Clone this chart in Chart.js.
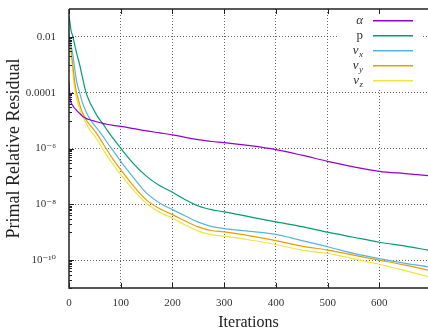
<!DOCTYPE html>
<html>
<head>
<meta charset="utf-8">
<script src="https://cdn.jsdelivr.net/npm/chart.js@4.4.0/dist/chart.umd.min.js"></script>
<style>
  html, body { margin: 0; padding: 0; background: #fff; }
  #wrap { width: 428px; height: 332px; }
</style>
</head>
<body>
<div id="wrap"><canvas id="grafico" width="428" height="332"></canvas></div>
<script>
// iteraciones muestreadas (eje x)
const iteraciones = [0, 2, 4, 7, 10, 13, 16, 20, 26, 33, 40, 46, 55, 65, 75, 85, 100, 125, 150, 175, 200, 225, 250, 275, 300, 350, 400, 450, 500, 550, 600, 650, 694];

// residuos, como exponente base 10
const alphaExp = [-3.6, -4.2, -4.36, -4.45, -4.54, -4.6, -4.66, -4.73, -4.84, -4.92, -4.97, -5.0, -5.05, -5.1, -5.14, -5.17, -5.21, -5.29, -5.37, -5.44, -5.51, -5.6, -5.68, -5.75, -5.79, -5.9, -6.04, -6.24, -6.46, -6.66, -6.82, -6.9, -6.97];
const pExp = [-1.25, -1.5, -1.78, -1.95, -2.2, -2.45, -2.68, -2.95, -3.45, -4.0, -4.33, -4.55, -4.85, -5.1, -5.38, -5.63, -5.99, -6.55, -7.0, -7.33, -7.57, -7.84, -8.06, -8.19, -8.27, -8.45, -8.63, -8.8, -9.0, -9.18, -9.36, -9.5, -9.64];
const vxExp = [-1.9, -2.1, -2.3, -2.59, -3.0, -3.4, -3.7, -3.96, -4.36, -4.68, -4.93, -5.09, -5.3, -5.55, -5.82, -6.07, -6.46, -7.05, -7.6, -7.95, -8.19, -8.42, -8.64, -8.79, -8.87, -8.97, -9.08, -9.3, -9.52, -9.76, -9.95, -10.12, -10.24];
const vyExp = [-1.95, -2.15, -2.45, -2.95, -3.45, -3.85, -4.1, -4.38, -4.72, -4.97, -5.15, -5.28, -5.5, -5.8, -6.1, -6.38, -6.76, -7.35, -7.85, -8.15, -8.37, -8.6, -8.81, -8.94, -8.99, -9.13, -9.3, -9.5, -9.64, -9.82, -10.0, -10.18, -10.36];
const vzExp = [-2.0, -2.25, -2.6, -3.19, -3.7, -4.08, -4.3, -4.56, -4.85, -5.08, -5.34, -5.47, -5.7, -6.0, -6.3, -6.56, -6.94, -7.5, -7.97, -8.28, -8.5, -8.74, -8.96, -9.09, -9.14, -9.28, -9.44, -9.64, -9.76, -9.95, -10.15, -10.38, -10.59];

const etiquetasSeries = ["α", "p", "v_x", "v_y", "v_z"];
const coloresSeries = ["#9400d3", "#009e73", "#56b4e9", "#e69f00", "#f0e442"];

const xTicks = [0, 100, 200, 300, 400, 500, 600];
const yMayoresExp = [-2, -4, -6, -8, -10];
const yEtiquetas = ["0.01", "0.0001", "10⁻⁶", "10⁻⁸", "10⁻¹⁰"];

const serif = "'Liberation Serif', 'DejaVu Serif', serif";

function puntos(exps) {
  return iteraciones.map((it, i) => ({ x: it, y: Math.pow(10, exps[i]) }));
}

const todasExp = [alphaExp, pExp, vxExp, vyExp, vzExp];

// marco, marcas hacia dentro y leyenda estilo gnuplot
const marcoPlugin = {
  id: "marco",
  afterDatasetsDraw(chart) {
    const { ctx, chartArea: a, scales: { x, y } } = chart;
    ctx.save();

    // caja blanca de la leyenda
    ctx.fillStyle = "#fff";
    ctx.fillRect(337, a.top + 1, 85, 79);

    etiquetasSeries.forEach((lab, i) => {
      const fy = 20.7 + i * 15;
      const [base, sub] = lab.split("_");
      ctx.fillStyle = "#333";
      ctx.textAlign = "right";
      ctx.textBaseline = "alphabetic";
      let xd = 363;
      if (sub) {
        ctx.font = "italic 9px " + serif;
        ctx.fillText(sub, xd, fy + 6);
        xd -= ctx.measureText(sub).width + 0.5;
      }
      ctx.font = (base === "p" ? "" : "italic ") + "13px " + serif;
      ctx.fillText(base, xd, fy + 3.5);
      ctx.strokeStyle = coloresSeries[i];
      ctx.lineWidth = 1.5;
      ctx.beginPath();
      ctx.moveTo(373, fy);
      ctx.lineTo(413, fy);
      ctx.stroke();
    });

    // marco
    ctx.strokeStyle = "#222";
    ctx.lineWidth = 1.5;
    ctx.beginPath();
    ctx.moveTo(a.left, a.top);
    ctx.lineTo(a.right, a.top);
    ctx.moveTo(a.left, a.top);
    ctx.lineTo(a.left, a.bottom);
    ctx.lineTo(a.right, a.bottom);
    ctx.stroke();

    // marcas
    ctx.lineWidth = 1;
    ctx.strokeStyle = "#222";
    ctx.beginPath();
    xTicks.forEach(v => {
      const px = Math.round(x.getPixelForValue(v)) + 0.5;
      ctx.moveTo(px, a.bottom);
      ctx.lineTo(px, a.bottom - 5);
      ctx.moveTo(px, a.top);
      ctx.lineTo(px, a.top + 5);
    });
    yMayoresExp.forEach(e => {
      const py = Math.round(y.getPixelForValue(Math.pow(10, e))) + 0.5;
      ctx.moveTo(a.left, py);
      ctx.lineTo(a.left + 5, py);
      for (let k = 1; k <= 9; k++) {
        const v = k * Math.pow(10, e - 1);
        if (v < y.min) continue;
        const pm = Math.round(y.getPixelForValue(v)) + 0.5;
        ctx.moveTo(a.left, pm);
        ctx.lineTo(a.left + 3, pm);
      }
    });
    ctx.stroke();
    ctx.restore();
  }
};

const ctx = document.getElementById("grafico").getContext("2d");

new Chart(ctx, {
  type: "line",
  data: {
    datasets: etiquetasSeries.map((lab, i) => ({
      label: lab,
      data: puntos(todasExp[i]),
      borderColor: coloresSeries[i],
      backgroundColor: coloresSeries[i],
      borderWidth: 1.2,
      pointRadius: 0,
      fill: false,
      cubicInterpolationMode: "monotone"
    }))
  },
  options: {
    responsive: false,
    devicePixelRatio: 1,
    animation: false,
    layout: { padding: { top: 9, right: 0, left: 0, bottom: 0 } },
    plugins: {
      legend: { display: false },
      tooltip: { enabled: false }
    },
    scales: {
      x: {
        type: "linear",
        min: 0,
        max: 694,
        afterBuildTicks: s => { s.ticks = xTicks.map(v => ({ value: v })); },
        afterFit: s => { s.height = 44; s.paddingLeft = 0; s.paddingRight = 0; },
        grid: {
          color: c => (c.tick && c.tick.value === 0 ? "rgba(0,0,0,0)" : "rgba(0,0,0,0.6)"),
          lineWidth: 1,
          drawTicks: false
        },
        border: { display: false, dash: [1, 2] },
        ticks: {
          autoSkip: false,
          maxRotation: 0,
          padding: 9,
          color: "#333",
          font: { family: serif, size: 11 }
        },
        title: {
          display: true,
          text: "Iterations",
          color: "#222",
          font: { family: serif, size: 16 },
          padding: { top: 0, bottom: 0 }
        }
      },
      y: {
        type: "logarithmic",
        min: 1e-11,
        max: 1e-1,
        afterBuildTicks: s => { s.ticks = yMayoresExp.map(e => ({ value: Math.pow(10, e) })); },
        afterFit: s => { s.width = 69; s.paddingTop = 0; s.paddingBottom = 0; },
        grid: {
          color: "rgba(0,0,0,0.6)",
          lineWidth: 1,
          drawTicks: false
        },
        border: { display: false, dash: [1, 2] },
        ticks: {
          autoSkip: false,
          padding: 13,
          color: "#333",
          font: { family: serif, size: 11 },
          callback: (v, i) => yEtiquetas[i]
        },
        title: {
          display: true,
          text: "Primal Relative Residual",
          color: "#222",
          font: { family: serif, size: 18 },
          padding: { top: 3, bottom: 0 }
        }
      }
    }
  },
  plugins: [marcoPlugin]
});
</script>
</body>
</html>
